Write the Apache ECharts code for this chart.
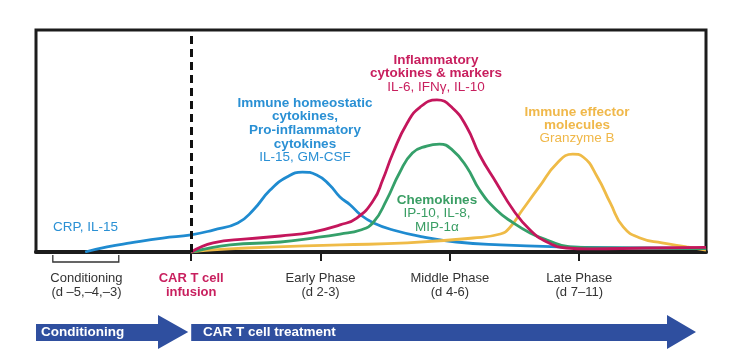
<!DOCTYPE html>
<html>
<head>
<meta charset="utf-8">
<script src="https://cdn.jsdelivr.net/npm/echarts@6/dist/echarts.min.js"></script>
<style>
html,body{margin:0;padding:0;background:#fff;}
#chart{width:729px;height:356px;}
</style>
</head>
<body>
<div id="chart"></div>
<script>
// Phase positions on the time axis (0 = CAR T infusion)
const phaseTicks = [-0.81, 0, 1, 2, 3];
const phaseLabels = [
  ['Conditioning', '(d \u20135,\u20134,\u20133)'],
  ['CAR T cell', 'infusion'],
  ['Early Phase', '(d 2-3)'],
  ['Middle Phase', '(d 4-6)'],
  ['Late Phase', '(d 7\u201311)']
];

// Relative level (0-100) of each marker group over time
const blueX  = [-0.82,-0.65,-0.47,-0.22,0,0.17,0.36,0.48,0.61,0.74,0.86,0.97,1.07,1.15,1.23,1.31,1.41,1.56,1.79,2.05,2.39,2.87,3.40,3.98];
const blueY  = [0,2.3,4.1,6.3,7.7,9.9,13.1,18.9,27.9,33.8,36.0,34.7,30.2,24.8,21.2,16.7,13.1,9.9,6.8,4.5,3.2,2.3,1.9,1.6];

const redX   = [0,0.17,0.43,0.69,0.94,1.15,1.28,1.41,1.48,1.56,1.67,1.77,1.90,2.02,2.13,2.23,2.36,2.49,2.62,2.75,2.90,3.08,3.52,3.98];
const redY   = [0,4.1,5.9,7.2,9.0,12.2,15.3,23.4,32.4,44.6,58.1,65.3,68.5,64.9,56.3,43.7,31.1,18.9,9.9,4.5,1.8,1.4,1.8,2.1];

const greenX = [0,0.07,0.30,0.69,0.94,1.15,1.31,1.41,1.51,1.61,1.71,1.82,1.92,2.02,2.13,2.23,2.36,2.49,2.62,2.75,2.93,3.26,3.98];
const greenY = [0,0.9,3.2,4.5,6.3,8.1,9.9,13.5,23.4,35.6,44.6,47.7,48.6,45.9,38.3,27.9,18.9,13.1,8.6,5.4,2.3,1.8,1.5];

const yellowX = [0,0.07,0.43,1.15,1.67,2.18,2.39,2.46,2.56,2.69,2.83,2.95,3.03,3.14,3.24,3.34,3.47,3.64,3.83,3.98];
const yellowY = [0,0.5,1.8,3.2,4.1,6.3,8.1,10.8,18.9,29.3,40.1,44.1,42.8,33.8,22.1,11.3,6.3,4.1,2.3,0.9];

const C = {
  blue: '#1f8bd0', red: '#c4165c', green: '#35a06a', yellow: '#efbb47',
  blueT: '#2a90d4', redT: '#c81f5e', greenT: '#3a9e64', yellowT: '#f0b84a',
  arrow: '#2f4f9f', ink: '#333333'
};
const FF = '"Liberation Sans", Arial, Helvetica, sans-serif';

function pairs(xs, ys){ return xs.map((x,i)=>[x, ys[i]]); }

function mkSeries(name, xs, ys, color, extra){
  return Object.assign({
    name, type: 'line', data: pairs(xs, ys), smooth: 0.5,
    showSymbol: false, symbol: 'none', clip: true,
    lineStyle: { color, width: 2.8 }, z: 3
  }, extra || {});
}

function textBlock(cx, y0, lh, lines, color){
  return lines.map((l, i) => ({
    type: 'text', x: cx, y: y0 + i*lh, z: 10,
    style: {
      text: l[0], fill: color, font: (l[1] ? 'bold ' : '') + '13.5px ' + FF,
      textAlign: 'center', textVerticalAlign: 'middle'
    }
  }));
}

const chart = echarts.init(document.getElementById('chart'), null, {renderer: 'canvas'});

const option = {
  animation: false,
  backgroundColor: '#ffffff',
  grid: { left: 36, right: 23, top: 30, bottom: 104, show: true, borderColor: '#1c1c1c', borderWidth: 3 },
  xAxis: {
    type: 'value', min: -1.2, max: 3.98,
    splitLine: { show: false },
    axisLine: { show: true, lineStyle: { color: '#1c1c1c', width: 4 } },
    axisTick: { show: true, customValues: [0, 1, 2, 3], length: 9, lineStyle: { color: '#1c1c1c', width: 2 } },
    axisLabel: {
      show: true, customValues: phaseTicks, margin: 19,
      formatter: function(v){
        let idx = 0, best = 1e9;
        phaseTicks.forEach((t,i)=>{ const d = Math.abs(t - v); if (d < best){ best = d; idx = i; } });
        const st = idx === 1 ? 'b' : 'a';
        return '{' + st + '|' + phaseLabels[idx][0] + '}\n{' + st + '|' + phaseLabels[idx][1] + '}';
      },
      rich: {
        a: { fontSize: 13, fontFamily: FF, color: C.ink, lineHeight: 14 },
        b: { fontSize: 13, fontFamily: FF, color: C.redT, fontWeight: 'bold', lineHeight: 14 }
      }
    }
  },
  yAxis: {
    type: 'value', min: 0, max: 100, show: false, splitLine: { show: false }
  },
  series: [
    mkSeries('Immune homeostatic cytokines', blueX, blueY, C.blue, {
      markLine: {
        silent: true, symbol: 'none', label: { show: false },
        lineStyle: { color: '#111', width: 3, type: [8, 5] },
        data: [{ xAxis: 0 }]
      }
    }),
    mkSeries('Immune effector molecules', yellowX, yellowY, C.yellow),
    mkSeries('Chemokines', greenX, greenY, C.green),
    mkSeries('Inflammatory cytokines & markers', redX, redY, C.red)
  ],
  graphic: []
};

chart.setOption(option);

// Decorations positioned from the axes
const px = v => chart.convertToPixel({gridIndex: 0}, [v, 0])[0];
const x0 = px(0);
const xL = px(-1.2);
const bL = px(-1.07), bR = px(-0.56);

const graphics = [];
graphics.push({ type: 'polyline', z: 10, shape: { points: [[bL,255],[bL,262],[bR,262],[bR,255]] },
  style: { stroke: '#333', lineWidth: 1.3, fill: null } });
graphics.push({ type: 'polygon', z: 10, shape: { points: [[xL,324],[158,324],[158,315],[x0-3,332],[158,349],[158,341],[xL,341]] },
  style: { fill: C.arrow } });
graphics.push({ type: 'polygon', z: 10, shape: { points: [[x0,324],[667,324],[667,315],[696,332],[667,349],[667,341],[x0,341]] },
  style: { fill: C.arrow } });
graphics.push({ type: 'text', z: 11, x: 41, y: 332, style: { text: 'Conditioning', fill: '#fff', font: 'bold 13.5px ' + FF, textVerticalAlign: 'middle' } });
graphics.push({ type: 'text', z: 11, x: 203, y: 332, style: { text: 'CAR T cell treatment', fill: '#fff', font: 'bold 13.5px ' + FF, textVerticalAlign: 'middle' } });

graphics.push({ type: 'text', z: 10, x: 53, y: 227, style: { text: 'CRP, IL-15', fill: C.blueT, font: '13.5px ' + FF, textVerticalAlign: 'middle' } });
graphics.push(...textBlock(305, 103, 13.6, [['Immune homeostatic',1],['cytokines,',1],['Pro-inflammatory',1],['cytokines',1],['IL-15, GM-CSF',0]], C.blueT));
graphics.push(...textBlock(436, 60, 13.5, [['Inflammatory',1],['cytokines & markers',1],['IL-6, IFN\u03b3, IL-10',0]], C.redT));
graphics.push(...textBlock(437, 200, 13.5, [['Chemokines',1],['IP-10, IL-8,',0],['MIP-1\u03b1',0]], C.greenT));
graphics.push(...textBlock(577, 112, 13.3, [['Immune effector',1],['molecules',1],['Granzyme B',0]], C.yellowT));

chart.setOption({ graphic: graphics });
</script>
</body>
</html>
